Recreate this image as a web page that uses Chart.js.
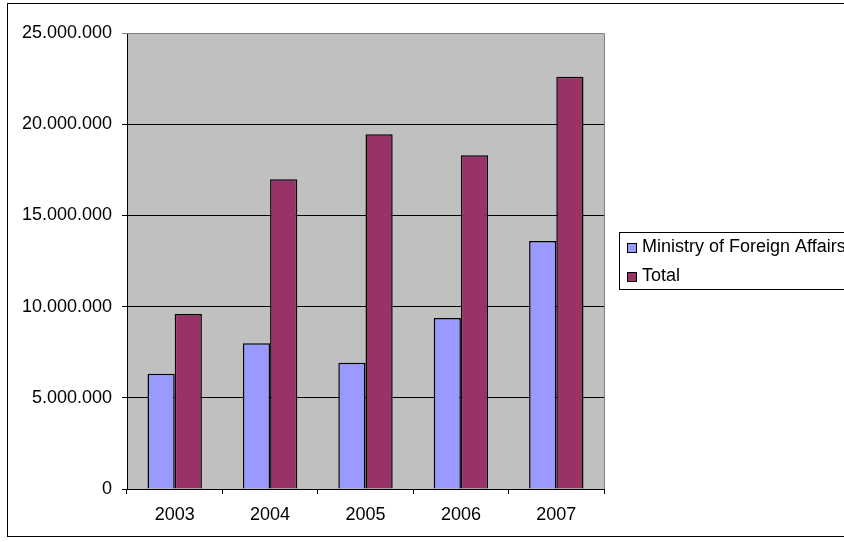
<!DOCTYPE html>
<html>
<head>
<meta charset="utf-8">
<script src="https://cdn.jsdelivr.net/npm/chart.js@4/dist/chart.umd.min.js"></script>
<style>
  html, body { margin: 0; padding: 0; background: #fff; }
  #wrap { width: 844px; height: 542px; position: relative; }
</style>
</head>
<body>
<div id="wrap"><canvas id="grafico" width="844" height="542"></canvas></div>
<script>
// años y series
const years = ["2003", "2004", "2005", "2006", "2007"];
const ministryValues = [6320000, 7990000, 6920000, 9370000, 13600000];
const totalValues = [9590000, 16980000, 19450000, 18300000, 22600000];
const seriesNames = ["Ministry of Foreign Affairs", "Total"];

const FONT = "'Liberation Sans', Arial, sans-serif";
const FONT_SIZE = 18;

// 25000000 -> "25.000.000"
function formatPuntos(v) {
  return String(Math.round(v)).replace(/\B(?=(\d{3})+(?!\d))/g, ".");
}

/* fondo gris del área de trazado + marco exterior */
const fondoPlugin = {
  id: "fondo",
  beforeDraw(chart) {
    const { ctx, chartArea: a } = chart;
    ctx.save();
    ctx.fillStyle = "#C0C0C0";
    ctx.fillRect(a.left, a.top, a.right - a.left, a.bottom - a.top);
    // marco del gráfico completo
    ctx.strokeStyle = "#000";
    ctx.lineWidth = 1;
    ctx.strokeRect(7.5, 3.5, 900, 533);
    ctx.restore();
  },
  afterDatasetsDraw(chart) {
    const { ctx, chartArea: a } = chart;
    ctx.save();
    ctx.strokeStyle = "#808080";
    ctx.lineWidth = 1;
    ctx.beginPath();
    ctx.moveTo(a.left, a.top + 0.5);
    ctx.lineTo(a.right + 0.5, a.top + 0.5);
    ctx.lineTo(a.right + 0.5, a.bottom);
    ctx.stroke();
    ctx.restore();
  }
};

/* leyenda con recuadro, a la derecha */
const leyendaPlugin = {
  id: "leyenda",
  afterDraw(chart) {
    const { ctx } = chart;
    ctx.save();
    ctx.fillStyle = "#fff";
    ctx.fillRect(619, 232, 300, 58);
    ctx.strokeStyle = "#000";
    ctx.lineWidth = 1;
    ctx.strokeRect(619.5, 232.5, 300, 57);
    const rows = [247, 276];
    chart.data.datasets.forEach((ds, i) => {
      const cy = rows[i];
      ctx.fillStyle = ds.backgroundColor;
      ctx.fillRect(627, cy - 4, 9, 9);
      ctx.strokeStyle = "#000";
      ctx.strokeRect(627.5, cy - 3.5, 9, 9);
      ctx.fillStyle = "#000";
      ctx.font = FONT_SIZE + "px " + FONT;
      ctx.textBaseline = "middle";
      ctx.fillText(ds.label, 642, cy);
    });
    ctx.restore();
  }
};

const ctx = document.getElementById("grafico").getContext("2d");
new Chart(ctx, {
  type: "bar",
  data: {
    labels: years,
    datasets: [
      {
        label: seriesNames[0],
        data: ministryValues,
        backgroundColor: "#9999FF",
        borderColor: "#000",
        borderWidth: 1.5,
        barPercentage: 1,
        categoryPercentage: 0.57
      },
      {
        label: seriesNames[1],
        data: totalValues,
        backgroundColor: "#993366",
        borderColor: "#000",
        borderWidth: 1.5,
        barPercentage: 1,
        categoryPercentage: 0.57
      }
    ]
  },
  options: {
    responsive: false,
    animation: false,
    layout: { padding: { left: 0, top: 33, right: 240, bottom: 0 } },
    plugins: {
      legend: { display: false },
      tooltip: { enabled: false }
    },
    scales: {
      x: {
        grid: {
          offset: true,
          drawOnChartArea: false,
          drawTicks: true,
          tickLength: 5,
          color: "#000"
        },
        border: { color: "#000" },
        ticks: { color: "#000", font: { family: FONT, size: FONT_SIZE }, padding: 10, maxRotation: 0 },
        afterFit(s) { s.height = 53; }
      },
      y: {
        min: 0,
        max: 25000000,
        ticks: {
          stepSize: 5000000,
          color: "#000",
          font: { family: FONT, size: FONT_SIZE },
          padding: 10,
          callback: v => formatPuntos(v)
        },
        grid: {
          color: c => (c.tick && c.tick.value === 25000000 ? "#808080" : "#000"),
          tickLength: 5,
          drawTicks: true
        },
        border: { color: "#000" },
        afterFit(s) { s.width = 127; }
      }
    }
  },
  plugins: [fondoPlugin, leyendaPlugin]
});
</script>
</body>
</html>
